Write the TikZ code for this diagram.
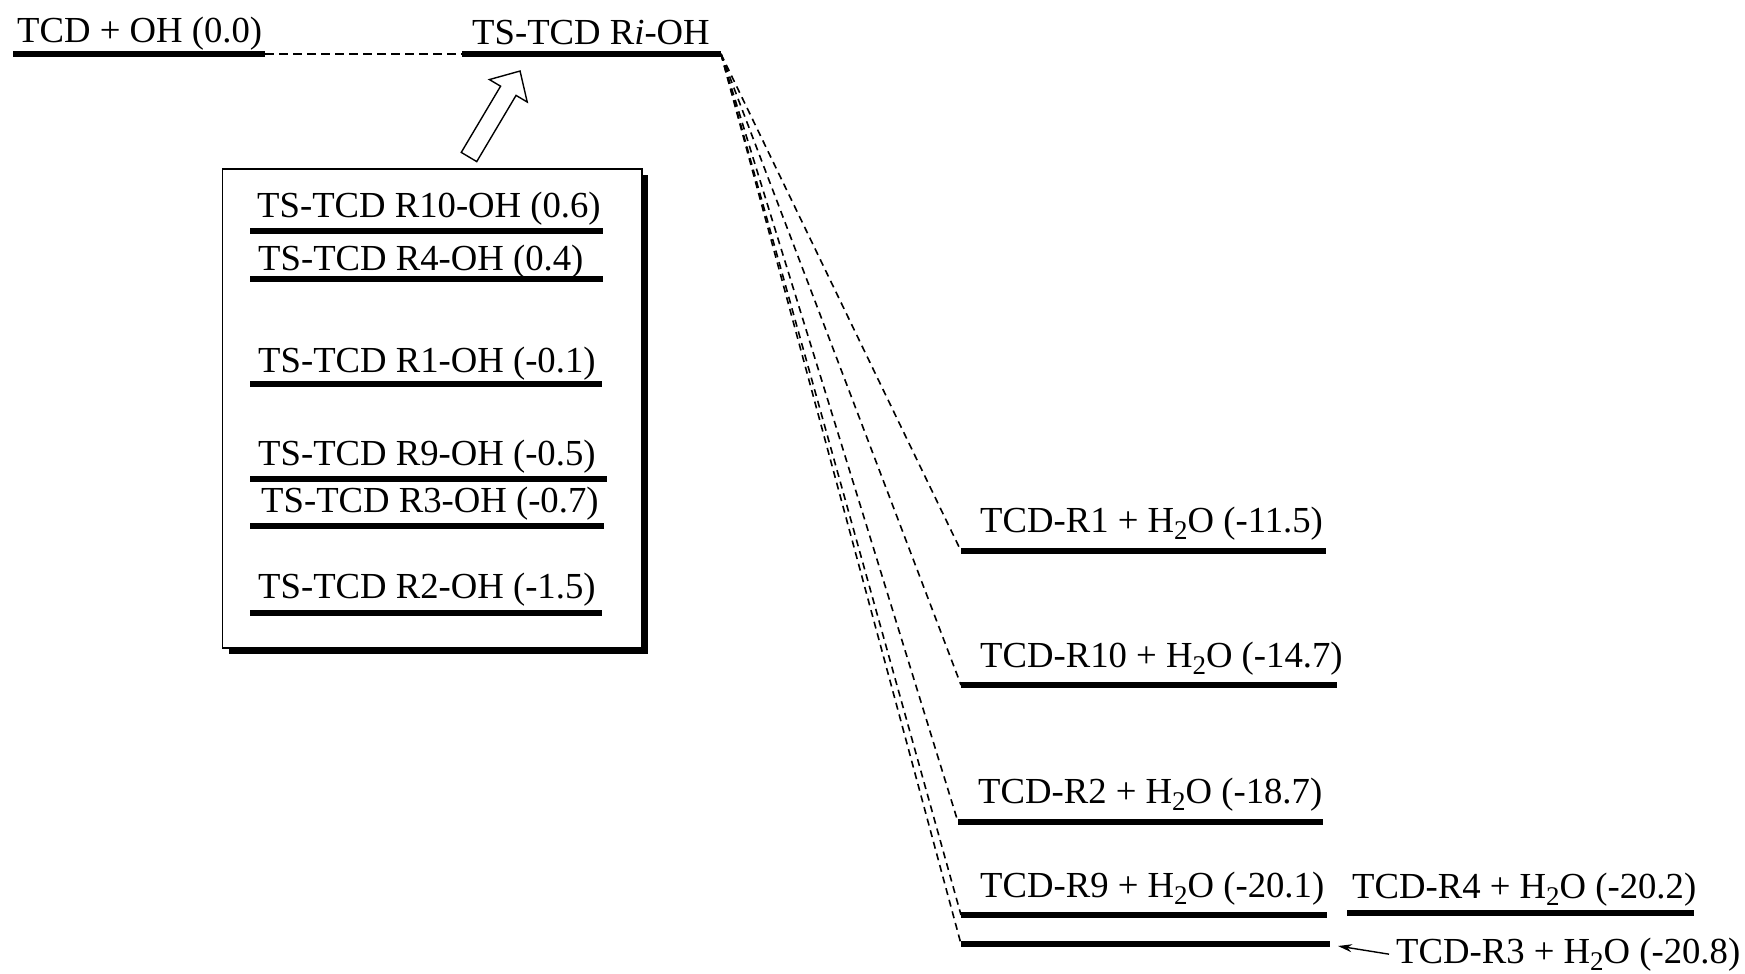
\documentclass[tikz,border=0pt]{standalone}
\usepackage{fontspec}
\setmainfont{Liberation Serif}
\usetikzlibrary{arrows.meta}
\newcommand{\HtwoO}{H\raisebox{-7pt}{\fontsize{27}{27}\selectfont 2}O}
\tikzset{
  lvl/.style={line width=5.8pt},
  conn/.style={line width=1.6pt, dash pattern=on 7pt off 5pt},
  topdash/.style={line width=1.6pt, dash pattern=on 9pt off 5pt},
  lbl/.style={anchor=base west, inner sep=0pt, font=\fontsize{36.7}{44}\selectfont},
  ptr/.style={line width=1.4pt, -{Stealth[length=14pt,width=8pt]}},
  boxline/.style={line width=1.4pt},
}
\begin{document}
\begin{tikzpicture}[x=1pt,y=-1pt]
\useasboundingbox (0,0) rectangle (1745,974);

% top levels
\coordinate (oL) at (13,54);  \coordinate (oR) at (265,54);
\coordinate (tL) at (462,54); \coordinate (tR) at (721,54);
\draw[lvl] (oL) -- (oR);
\draw[lvl] (tL) -- (tR);
\draw[topdash] (oR) -- (tL);
\node[lbl] (otxt) at (17,43) {TCD + OH (0.0)};
\node[lbl] (ttxt) at (472,45) {TS-TCD R\textit{i}-OH};

% box with shadow
\fill (229,175) rectangle (648,654);
\draw[boxline, fill=white] (222.7,169) rectangle (642,648);

% hollow arrow from box to TS
\begin{scope}[shift={(469,157)}, rotate=59.3]
  \draw[boxline, fill=white] (0,-9) -- (77,-9) -- (77,-22) -- (100,0) -- (77,22) -- (77,9) -- (0,9) -- cycle;
\end{scope}

% TS levels inside box
\coordinate (b10L) at (250,231); \coordinate (b10R) at (603,231);
\coordinate (b4L)  at (250,279); \coordinate (b4R)  at (603,279);
\coordinate (b1L)  at (250,384); \coordinate (b1R)  at (602,384);
\coordinate (b9L)  at (250,479); \coordinate (b9R)  at (607,479);
\coordinate (b3L)  at (250,526); \coordinate (b3R)  at (604,526);
\coordinate (b2L)  at (250,613); \coordinate (b2R)  at (602,613);
\foreach \n in {b10,b4,b1,b9,b3,b2} \draw[lvl] (\n L) -- (\n R);
\node[lbl] (b10txt) at (257,217) {TS-TCD R10-OH (0.6)};
\node[lbl] (b4txt)  at (258,270) {TS-TCD R4-OH (0.4)};
\node[lbl] (b1txt)  at (258,372) {TS-TCD R1-OH (-0.1)};
\node[lbl] (b9txt)  at (258,465) {TS-TCD R9-OH (-0.5)};
\node[lbl] (b3txt)  at (261,512) {TS-TCD R3-OH (-0.7)};
\node[lbl] (b2txt)  at (258,598) {TS-TCD R2-OH (-1.5)};

% product levels
\coordinate (p1L)  at (961,551);  \coordinate (p1R)  at (1326,551);
\coordinate (p10L) at (961,685);  \coordinate (p10R) at (1337,685);
\coordinate (p2L)  at (958,822);  \coordinate (p2R)  at (1323,822);
\coordinate (p9L)  at (961,915);  \coordinate (p9R)  at (1327,915);
\coordinate (p4L)  at (1347,913); \coordinate (p4R)  at (1694,913);
\coordinate (p3L)  at (961,944);  \coordinate (p3R)  at (1330,944);
\foreach \n in {p1,p10,p2,p9,p4,p3} \draw[lvl] (\n L) -- (\n R);
\node[lbl] (p1txt)  at (980,532)  {TCD-R1 + \HtwoO{} (-11.5)};
\node[lbl] (p10txt) at (980,667)  {TCD-R10 + \HtwoO{} (-14.7)};
\node[lbl] (p2txt)  at (978,803)  {TCD-R2 + \HtwoO{} (-18.7)};
\node[lbl] (p9txt)  at (980,897)  {TCD-R9 + \HtwoO{} (-20.1)};
\node[lbl] (p4txt)  at (1352,898) {TCD-R4 + \HtwoO{} (-20.2)};
\node[lbl] (p3txt)  at (1396,963) {TCD-R3 + \HtwoO{} (-20.8)};

% dashed connectors
\foreach \n in {p1,p10,p2,p9,p3} \draw[conn] (tR) -- (\n L);

% pointer to R3 level
\coordinate (p3tip) at (1338,946);
\draw[ptr] ([xshift=-7pt]p3txt.west) -- (p3tip);
\end{tikzpicture}
\end{document}
